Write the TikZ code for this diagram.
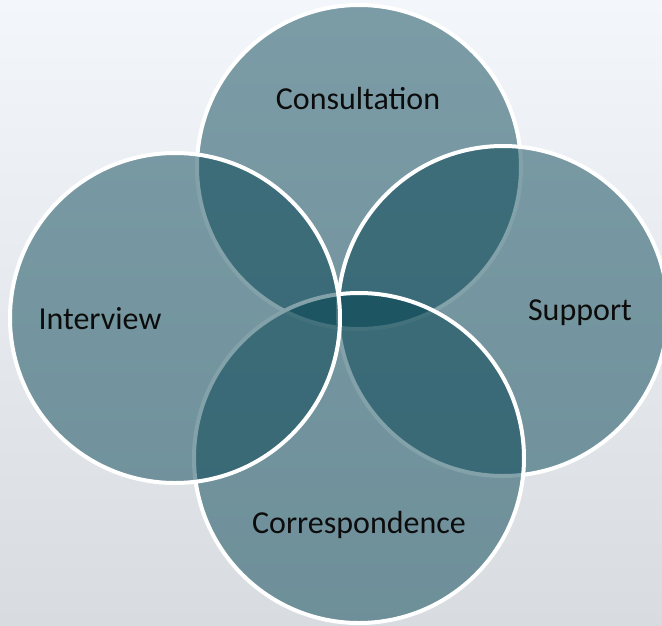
\documentclass[tikz,border=0pt]{standalone}
\usepackage{fontspec}
\setmainfont{Carlito}
\definecolor{ringfill}{RGB}{0,64,79}
\definecolor{bgtop}{RGB}{243,246,250}
\definecolor{bgbottom}{RGB}{216,220,225}
\definecolor{labeltext}{RGB}{12,12,12}
\tikzset{
    ring/.style={circle, draw=white, line width=4pt, fill=ringfill, fill opacity=0.49, draw opacity=1, minimum size=330pt, inner sep=0pt},
    ringlabel/.style={text=labeltext, font=\fontsize{32}{38}\selectfont, inner sep=0pt}
}
\begin{document}
\begin{tikzpicture}[x=1pt, y=-1pt]
        \useasboundingbox (0, 0) rectangle (662, 625);
        \shade[top color=bgtop, bottom color=bgbottom] (0, 0) rectangle (662, 625);
        \node[ring, minimum size=324pt] (cons) at (359, 167) {};
        \node[ring] (supp) at (503, 311) {};
        \node[ring] (corr) at (359, 458) {};
        \node[ring] (intv) at (175, 318) {};
        \node[ringlabel] (consText) at (358, 99) {Consultation};
        \node[ringlabel] (suppText) at (580, 313) {Support};
        \node[ringlabel] (corrText) at (359, 525) {Correspondence};
        \node[ringlabel] (intvText) at (100, 319) {Interview};
    \end{tikzpicture}
\end{document}
